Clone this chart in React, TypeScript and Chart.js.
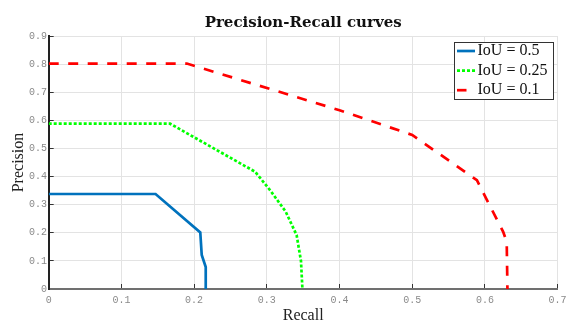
import React, { useEffect, useRef } from "react";
import { Chart, registerables } from "chart.js";

Chart.register(...registerables);

// ---- data ----
const seriesLabels = ["IoU = 0.5", "IoU = 0.25", "IoU = 0.1"];

const recall05 = [0, 0.147, 0.2085, 0.2105, 0.216, 0.216];
const precision05 = [0.338, 0.338, 0.201, 0.121, 0.078, 0];

const recall025 = [0, 0.167, 0.284, 0.305, 0.326, 0.341, 0.347, 0.349];
const precision025 = [0.588, 0.588, 0.417, 0.35, 0.275, 0.192, 0.1, 0];

const recall01 = [0, 0.19, 0.4, 0.5, 0.589, 0.625, 0.63, 0.631];
const precision01 = [0.802, 0.802, 0.636, 0.548, 0.387, 0.204, 0.168, 0];

const xTickValues = [0, 0.1, 0.2, 0.3, 0.4, 0.5, 0.6, 0.7];
const xTickLabels = ["0", "0.1", "0.2", "0.3", "0.4", "0.5", "0.6", "0.7"];
const yTickValues = [0, 0.1, 0.2, 0.3, 0.4, 0.5, 0.6, 0.7, 0.8, 0.9];
const yTickLabels = ["0", "0.1", "0.2", "0.3", "0.4", "0.5", "0.6", "0.7", "0.8", "0.9"];

const toPoints = (xs: number[], ys: number[]) => xs.map((x, i) => ({ x, y: ys[i] }));

const boxLegend = {
  id: "boxLegend",
  afterDraw(chart: any) {
    const { ctx, chartArea } = chart;
    const w = 99;
    const h = 57;
    const x = Math.round(chartArea.right - 5 - w);
    const y = Math.round(chartArea.top + 6);
    ctx.save();
    ctx.fillStyle = "#ffffff";
    ctx.fillRect(x, y, w, h);
    ctx.strokeStyle = "#333333";
    ctx.lineWidth = 1;
    ctx.strokeRect(x + 0.5, y + 0.5, w, h);
    chart.data.datasets.forEach((ds: any, i: number) => {
      const cy = y + 9 + i * 19.6;
      ctx.strokeStyle = ds.borderColor;
      ctx.lineWidth = ds.borderWidth;
      ctx.lineCap = "butt";
      ctx.setLineDash(ds.borderDash || []);
      ctx.beginPath();
      ctx.moveTo(x + 3, cy);
      ctx.lineTo(x + (ds.borderDash && ds.borderDash[0] > 5 ? 12.5 : 21), cy);
      ctx.stroke();
      ctx.setLineDash([]);
      ctx.fillStyle = "#111111";
      ctx.font = '16px "Liberation Serif"';
      ctx.textBaseline = "middle";
      ctx.textAlign = "left";
      ctx.fillText(ds.label, x + 23.5, cy);
    });
    ctx.restore();
  },
};

export default function App() {
  const canvasRef = useRef<HTMLCanvasElement | null>(null);

  useEffect(() => {
    if (!canvasRef.current) return;
    const tickFont = { family: '"Liberation Mono", monospace', size: 10 };
    const chart = new Chart(canvasRef.current, {
      type: "scatter",
      data: {
        datasets: [
          {
            label: seriesLabels[0],
            data: toPoints(recall05, precision05),
            showLine: true,
            borderColor: "#0072BD",
            backgroundColor: "#0072BD",
            borderWidth: 2.7,
            pointRadius: 0,
            tension: 0,
          },
          {
            label: seriesLabels[1],
            data: toPoints(recall025, precision025),
            showLine: true,
            borderColor: "#00FF00",
            backgroundColor: "#00FF00",
            borderWidth: 2.7,
            borderDash: [3, 2],
            pointRadius: 0,
            tension: 0,
          },
          {
            label: seriesLabels[2],
            data: toPoints(recall01, precision01),
            showLine: true,
            borderColor: "#FF0000",
            backgroundColor: "#FF0000",
            borderWidth: 2.7,
            borderDash: [10, 9.5],
            pointRadius: 0,
            tension: 0,
          },
        ],
      },
      options: {
        responsive: false,
        animation: false,
        devicePixelRatio: 1,
        layout: { padding: { left: 0, right: 8.4, top: 0, bottom: 0 } },
        plugins: {
          legend: { display: false },
          tooltip: { enabled: false },
          title: {
            display: true,
            text: "Precision-Recall curves",
            fullSize: false,
            color: "#111111",
            font: { family: '"DejaVu Serif", serif', size: 15, weight: "bold", lineHeight: 1.2 },
            padding: { top: 14, bottom: 4 },
          },
        },
        scales: {
          x: {
            type: "linear",
            min: 0,
            max: 0.7,
            afterBuildTicks: (scale: any) => {
              scale.ticks = xTickValues.map((v) => ({ value: v }));
            },
            afterFit: (scale: any) => {
              scale.height = 33;
              scale.paddingLeft = 0;
              scale.paddingRight = 0;
            },
            ticks: {
              autoSkip: false,
              maxRotation: 0,
              padding: 10,
              color: "#8a8a8a",
              font: tickFont,
              callback: (_v: any, i: number) => xTickLabels[i],
            },
            grid: {
              color: "#e3e3e3",
              lineWidth: 1,
              drawTicks: true,
              tickLength: -5,
              tickColor: "#333333",
              tickWidth: 1,
            },
            border: { display: true, color: "#707070", width: 2 },
            title: {
              display: true,
              text: "Recall",
              color: "#222222",
              font: { family: '"Liberation Serif", serif', size: 16, lineHeight: 0.8 },
              padding: { top: 0, bottom: 0 },
            },
          },
          y: {
            type: "linear",
            min: 0,
            max: 0.9,
            afterBuildTicks: (scale: any) => {
              scale.ticks = yTickValues.map((v) => ({ value: v }));
            },
            afterFit: (scale: any) => {
              scale.width = 48.7;
              scale.paddingTop = 0;
              scale.paddingBottom = 0;
            },
            ticks: {
              autoSkip: false,
              padding: 6.7,
              color: "#8a8a8a",
              font: tickFont,
              callback: (_v: any, i: number) => yTickLabels[i],
            },
            grid: {
              color: "#e3e3e3",
              lineWidth: 1,
              drawTicks: true,
              tickLength: -5,
              tickColor: "#333333",
              tickWidth: 1,
            },
            border: { display: true, color: "#222222", width: 2 },
            title: {
              display: true,
              text: "Precision",
              color: "#222222",
              font: { family: '"Liberation Serif", serif', size: 16, lineHeight: 1 },
              padding: { top: 10.8, bottom: 0 },
            },
          },
        },
      },
      plugins: [boxLegend],
    } as any);
    return () => chart.destroy();
  }, []);

  return (
    <div style={{ position: "fixed", left: 0, top: 0, width: 566, height: 322, background: "#fff" }}>
      <canvas ref={canvasRef} width={566} height={322} style={{ display: "block" }} />
    </div>
  );
}
